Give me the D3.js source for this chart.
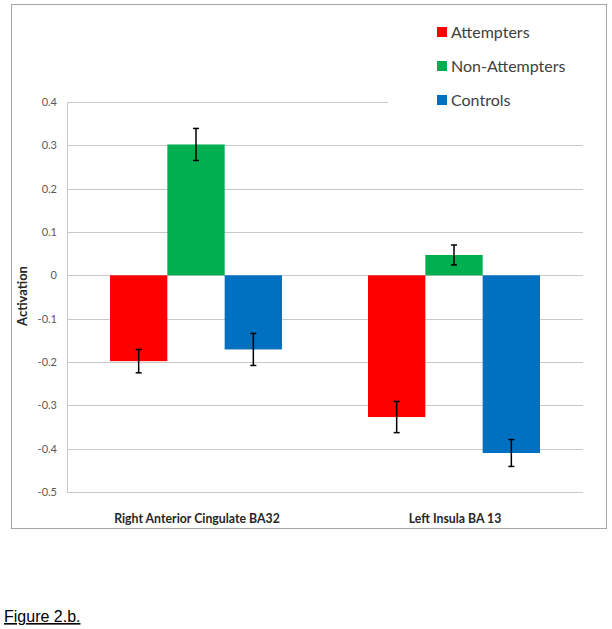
<!DOCTYPE html>
<html><head><meta charset="utf-8">
<script src="https://cdn.jsdelivr.net/npm/d3@7"></script>
<style>body{margin:0;background:#fff}svg{display:block}</style>
</head><body>
<svg id="chart" width="612" height="629"></svg>
<script>
const categories = ["Right Anterior Cingulate BA32", "Left Insula BA 13"];
const seriesNames = ["Attempters", "Non-Attempters", "Controls"];
const seriesColors = ["#ff0000", "#00b050", "#0070c0"];
const attempters = [-0.198, -0.327];
const nonAttempters = [0.302, 0.047];
const controls = [-0.171, -0.410];
const attemptersErr = [0.027, 0.036];
const nonAttemptersErr = [0.037, 0.023];
const controlsErr = [0.037, 0.031];
const yTicks = [0.4, 0.3, 0.2, 0.1, 0, -0.1, -0.2, -0.3, -0.4, -0.5];
const yTickLabels = ["0.4", "0.3", "0.2", "0.1", "0", "-0.1", "-0.2", "-0.3", "-0.4", "-0.5"];

(function () {
const values = [attempters, nonAttempters, controls];
const errs = [attemptersErr, nonAttemptersErr, controlsErr];

const svg = d3.select("#chart");
const font = "Lato, 'Open Sans', sans-serif";

svg.append("rect").attr("x", 11.5).attr("y", 4.5).attr("width", 595).attr("height", 524)
  .attr("fill", "none").attr("stroke", "#a6a6a6").attr("stroke-width", 1);

const pL = 67, pR = 583, pT = 102, pB = 492;
const y = d3.scaleLinear().domain([-0.5, 0.4]).range([pB, pT]);
const x0 = d3.scaleBand().domain(categories).range([pL, pR]).paddingInner(0).paddingOuter(0);
const groupW = x0.bandwidth() * 3 / 4.5;
const x1 = d3.scaleBand().domain(seriesNames).range([0, groupW]).padding(0);

const grid = svg.append("g");
yTicks.forEach(t => {
  grid.append("line")
    .attr("x1", pL).attr("x2", t === 0.4 ? 388 : pR)
    .attr("y1", Math.round(y(t)) + 0.5).attr("y2", Math.round(y(t)) + 0.5)
    .attr("stroke", "#c8c8c8").attr("stroke-width", 1);
});
svg.append("line").attr("x1", pL + 0.5).attr("x2", pL + 0.5)
  .attr("y1", pT).attr("y2", pB + 1).attr("stroke", "#c8c8c8");

const yAxis = d3.axisLeft(y).tickValues(yTicks).tickSize(0).tickPadding(10)
  .tickFormat((d, i) => yTickLabels[i]);
const ga = svg.append("g").attr("transform", `translate(${pL},0)`).call(yAxis);
ga.select(".domain").remove();
ga.selectAll("text").attr("font-family", font).attr("font-size", 11).attr("fill", "#595959");

svg.append("text").attr("transform", "translate(27,296) rotate(-90)")
  .attr("text-anchor", "middle").attr("font-family", font).attr("font-weight", "bold")
  .attr("font-size", 13).attr("fill", "#262626").text("Activation");

const bars = svg.append("g");
categories.forEach((c, ci) => {
  const gx = x0(c) + (x0.bandwidth() - groupW) / 2;
  seriesNames.forEach((s, si) => {
    const v = values[si][ci];
    bars.append("rect")
      .attr("x", gx + x1(s)).attr("width", x1.bandwidth())
      .attr("y", y(Math.max(0, v))).attr("height", Math.abs(y(v) - y(0)))
      .attr("fill", seriesColors[si]);
  });
  seriesNames.forEach((s, si) => {
    const v = values[si][ci], e = errs[si][ci];
    const cx = gx + x1(s) + x1.bandwidth() / 2;
    const eg = bars.append("g").attr("stroke", "#000").attr("stroke-width", 1.5);
    eg.append("line").attr("x1", cx).attr("x2", cx).attr("y1", y(v + e)).attr("y2", y(v - e));
    eg.append("line").attr("x1", cx - 3).attr("x2", cx + 3).attr("y1", y(v + e)).attr("y2", y(v + e));
    eg.append("line").attr("x1", cx - 3).attr("x2", cx + 3).attr("y1", y(v - e)).attr("y2", y(v - e));
  });
});

categories.forEach(c => {
  svg.append("text").attr("x", x0(c) + x0.bandwidth() / 2 + 1).attr("y", 523)
    .attr("text-anchor", "middle").attr("font-family", font).attr("font-weight", "bold")
    .attr("font-size", 12.3).attr("fill", "#262626").text(c);
});

const legendY = [32, 66, 100];
seriesNames.forEach((s, i) => {
  svg.append("rect").attr("x", 437).attr("y", legendY[i] - 5).attr("width", 10).attr("height", 10)
    .attr("fill", seriesColors[i]);
  svg.append("text").attr("x", 451).attr("y", legendY[i] + 6)
    .attr("font-family", font).attr("font-size", 16).attr("fill", "#404040").text(s);
});

svg.append("text").attr("x", 4).attr("y", 622).attr("font-family", "Liberation Sans, Arial, sans-serif")
  .attr("font-size", 16).attr("text-decoration", "underline").attr("fill", "#000").text("Figure 2.b.");
})();
</script>
</body></html>
